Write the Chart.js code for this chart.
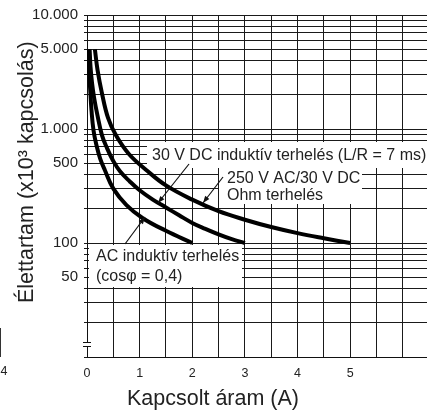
<!DOCTYPE html>
<html><head><meta charset="utf-8">
<script src="https://cdn.jsdelivr.net/npm/chart.js@4.4.1/dist/chart.umd.min.js"></script>
<style>html,body{margin:0;padding:0;background:#fff;overflow:hidden}canvas{display:block}</style>
</head><body>
<canvas id="c" width="427" height="411"></canvas>
<script>
// ---- data ----
const acCurrent    = [0.03, 0.042, 0.061, 0.086, 0.124, 0.18, 0.25, 0.34, 0.5, 0.75, 1.06, 1.5, 2.0];
const acLife       = [5000, 3200, 2200, 1450, 970, 720, 550, 435, 300, 215, 165, 128, 100];
const dcIndCurrent = [0.05, 0.067, 0.095, 0.135, 0.2, 0.285, 0.38, 0.494, 0.627, 0.817, 1.0, 1.25, 1.5, 1.75, 2.0, 2.25, 2.5, 2.75, 3.0];
const dcIndLife    = [5000, 3500, 2550, 1880, 1310, 880, 680, 530, 425, 345, 290, 240, 205, 175, 150, 133, 119, 108, 100];
const ohmCurrent   = [0.15, 0.2, 0.28, 0.4, 0.55, 0.8, 1.13, 1.5, 2.0, 2.5, 3.0, 3.5, 4.0, 4.5, 5.0];
const ohmLife      = [5000, 3300, 2100, 1250, 880, 600, 435, 320, 240, 190, 160, 138, 122, 110, 100];

const xLabelValues = [0, 1, 2, 3, 4, 5];
const xLabelTexts  = ['0', '1', '2', '3', '4', '5'];
const yGridValues  = [10, 20, 30, 40, 50, 60, 70, 80, 90,
                      100, 200, 300, 400, 500, 600, 700, 800, 900,
                      1000, 2000, 3000, 4000, 5000, 6000, 7000, 8000, 9000, 10000];
const yLabelValues = [50, 100, 500, 1000, 5000, 10000];
const yLabelTexts  = ['50', '100', '500', '1.000', '5.000', '10.000'];

const xTitle   = 'Kapcsolt áram (A)';
const yTitle   = 'Élettartam (x10³ kapcsolás)';
const labelDC  = ['30 V DC induktív terhelés (L/R = 7 ms)'];
const labelOhm = ['250 V AC/30 V DC', 'Ohm terhelés'];
const labelAC  = ['AC induktív terhelés', '(cosφ = 0,4)'];
const strayText = '4';

// ---- chart ----
const FONT = "'Liberation Sans', Arial, sans-serif";
const toPts = (xs, ys) => xs.map((x, i) => ({x: x, y: ys[i]}));

const notes = {
  boxes: [[147, 142, 427, 168], [219, 168, 362, 204], [89, 245, 242, 287]],
  texts: [
    {lines: labelDC, x: 152, y: 156, dy: 0},
    {lines: labelOhm, x: 227, y: 179, dy: 17},
    {lines: labelAC, x: 96, y: 257, dy: 20}
  ],
  arrows: [[189, 164, 158, 203], [223, 177, 203, 203], [125, 244, 145, 217]]
};

function arrow(ctx, x1, y1, x2, y2) {
  ctx.beginPath(); ctx.moveTo(x1, y1); ctx.lineTo(x2, y2); ctx.stroke();
  const a = Math.atan2(y2 - y1, x2 - x1), L = 7, W = 2.6;
  ctx.beginPath();
  ctx.moveTo(x2, y2);
  ctx.lineTo(x2 - L * Math.cos(a) + W * Math.sin(a), y2 - L * Math.sin(a) - W * Math.cos(a));
  ctx.lineTo(x2 - L * Math.cos(a) - W * Math.sin(a), y2 - L * Math.sin(a) + W * Math.cos(a));
  ctx.closePath(); ctx.fill();
}

const decor = {
  id: 'decor',
  beforeDatasetsDraw(chart) {
    const ctx = chart.ctx, ca = chart.chartArea;
    ctx.save();
    ctx.fillStyle = '#fff';
    notes.boxes.forEach(b => ctx.fillRect(b[0], b[1], b[2] - b[0], b[3] - b[1]));
    // axis break mark
    ctx.fillRect(ca.left - 1, 343, 3, 3);
    ctx.strokeStyle = '#111'; ctx.lineWidth = 1;
    ctx.beginPath();
    ctx.moveTo(ca.left - 4, 342.5); ctx.lineTo(ca.left + 4, 342.5);
    ctx.moveTo(ca.left - 4, 346.5); ctx.lineTo(ca.left + 4, 346.5);
    ctx.stroke();
    ctx.restore();
  },
  afterDatasetsDraw(chart) {
    const ctx = chart.ctx;
    ctx.save();
    ctx.fillStyle = '#222';
    ctx.font = '16px ' + FONT;
    ctx.textBaseline = 'middle'; ctx.textAlign = 'left';
    notes.texts.forEach(t => t.lines.forEach((s, i) => ctx.fillText(s, t.x, t.y + i * t.dy)));
    ctx.strokeStyle = '#111'; ctx.fillStyle = '#111'; ctx.lineWidth = 1.2;
    notes.arrows.forEach(a => arrow(ctx, a[0], a[1], a[2], a[3]));
    // axis titles
    ctx.fillStyle = '#222';
    ctx.font = '21.5px ' + FONT;
    ctx.textBaseline = 'alphabetic'; ctx.textAlign = 'center';
    ctx.fillText(xTitle, 213, 405);
    ctx.save();
    ctx.translate(33, 303); ctx.rotate(-Math.PI / 2);
    ctx.textAlign = 'left';
    ctx.fillText(yTitle, 0, 0);
    ctx.restore();
    // stray fragment at lower left
    ctx.font = '12.5px ' + FONT; ctx.textAlign = 'center'; ctx.textBaseline = 'middle';
    ctx.fillText(strayText, 4, 372);
    ctx.strokeStyle = '#333'; ctx.lineWidth = 1;
    ctx.beginPath(); ctx.moveTo(0.5, 328); ctx.lineTo(0.5, 357); ctx.stroke();
    ctx.restore();
  }
};

const ds = (xs, ys) => ({
  data: toPts(xs, ys), borderColor: '#000', borderWidth: 4, pointRadius: 0,
  fill: false, tension: 0.4, borderCapStyle: 'butt'
});

new Chart(document.getElementById('c'), {
  type: 'line',
  data: { datasets: [ds(acCurrent, acLife), ds(dcIndCurrent, dcIndLife), ds(ohmCurrent, ohmLife)] },
  options: {
    responsive: false, animation: false, devicePixelRatio: 1,
    layout: { padding: { top: 14, right: 0, bottom: 0, left: 0 } },
    plugins: { legend: { display: false }, tooltip: { enabled: false } },
    scales: {
      x: {
        type: 'linear', min: 0, max: 6.46,
        afterFit: s => { s.height = 54; },
        border: { display: true, color: '#111', width: 1 },
        grid: { color: '#1a1a1a', lineWidth: 1, drawTicks: false },
        ticks: {
          stepSize: 0.5, includeBounds: false, autoSkip: false, maxRotation: 0, padding: 9,
          color: '#222', font: { family: FONT, size: 12.5 },
          callback: v => { const i = xLabelValues.indexOf(v); return i >= 0 ? xLabelTexts[i] : ''; }
        }
      },
      y: {
        type: 'logarithmic', min: 10, max: 10000,
        afterFit: s => { s.width = 87; },
        afterBuildTicks: s => { s.ticks = yGridValues.map(v => ({ value: v })); },
        border: { display: true, color: '#111', width: 1 },
        grid: { color: '#1a1a1a', lineWidth: 1, drawTicks: true, tickLength: 3 },
        ticks: {
          autoSkip: false, padding: 6, color: '#222', font: { family: FONT, size: 15 },
          callback: v => { const i = yLabelValues.indexOf(v); return i >= 0 ? yLabelTexts[i] : ''; }
        }
      }
    }
  },
  plugins: [decor]
});
</script>
</body></html>
